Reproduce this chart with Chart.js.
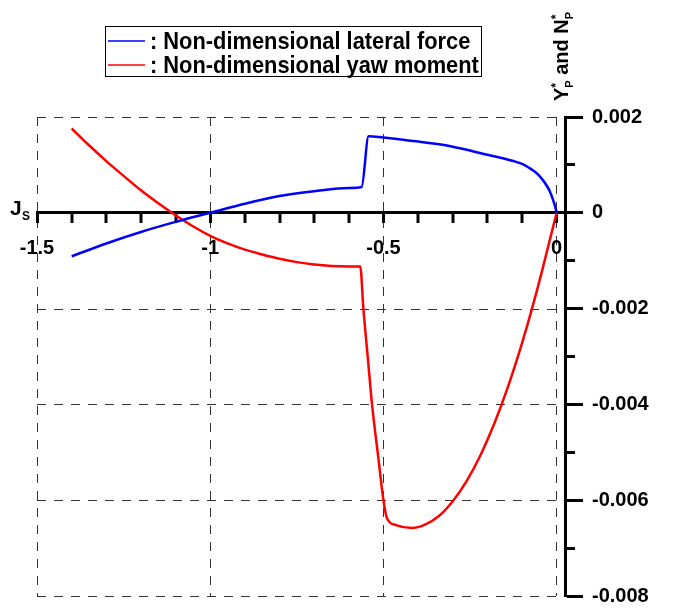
<!DOCTYPE html>
<html>
<head>
<meta charset="utf-8">
<script src="https://cdn.jsdelivr.net/npm/chart.js@4.4.0/dist/chart.umd.min.js"></script>
<style>
  html, body { margin: 0; padding: 0; background: #fff; }
</style>
</head>
<body>
<canvas id="chart" width="675" height="610"></canvas>
<script>
// Non-dimensional lateral force (blue)
const forceJ = [-1.4, -1.3, -1.2, -1.1, -1.0, -0.9, -0.8, -0.7, -0.6, -0.563, -0.543, -0.5, -0.45, -0.4, -0.35,
  -0.3, -0.25, -0.2, -0.15, -0.125, -0.1, -0.08, -0.06, -0.045, -0.03, -0.02, -0.01, -0.004, 0];
const forceY = [-0.00091, -0.00064, -0.00040, -0.00019, 0, 0.00019, 0.00035, 0.00045, 0.00052, 0.00054, 0.00160,
  0.00157, 0.00153, 0.00149, 0.00144, 0.00138, 0.00130, 0.00121, 0.00113, 0.00108, 0.00102, 0.00094, 0.00084,
  0.00073, 0.00058, 0.00045, 0.00026, 0.00012, 0];

// Non-dimensional yaw moment (red)
const momentJ = [-1.4, -1.35, -1.3, -1.25, -1.2, -1.15, -1.1, -1.05, -1.0, -0.95, -0.9, -0.85, -0.8, -0.75, -0.7,
  -0.65, -0.6, -0.567, -0.558, -0.545, -0.533, -0.515, -0.5, -0.49, -0.464, -0.418, -0.38, -0.34, -0.3, -0.26,
  -0.22, -0.18, -0.14, -0.1, -0.07, -0.04, -0.02, 0];
const momentY = [0.00176, 0.00141, 0.00108, 0.00077, 0.00047, 0.00020, -0.00005, -0.00028, -0.00048, -0.00064,
  -0.00077, -0.00087, -0.00096, -0.00103, -0.00108, -0.00111, -0.00112, -0.00112, -0.00200, -0.00304, -0.00400,
  -0.00510, -0.00600, -0.00637, -0.00652, -0.00658, -0.00651, -0.00633, -0.00602, -0.00560, -0.00506, -0.00440,
  -0.00362, -0.00272, -0.00197, -0.00115, -0.00057, 0];

const seriesLabels = ["Non-dimensional lateral force", "Non-dimensional yaw moment"];
const xTicks = [-1.5, -1.4, -1.3, -1.2, -1.1, -1.0, -0.9, -0.8, -0.7, -0.6, -0.5, -0.4, -0.3, -0.2, -0.1, 0];
const yMajorTicks = [-0.008, -0.006, -0.004, -0.002, 0, 0.002];
const yMinorTicks = [-0.007, -0.005, -0.003, -0.001, 0.001];

const FONT = "'Liberation Sans', Arial, sans-serif";
Chart.defaults.font.family = FONT;
Chart.defaults.font.weight = "bold";
Chart.defaults.color = "#000";

const isHalf = (v) => Math.abs(v * 2 - Math.round(v * 2)) < 1e-6;
const toPoints = (xs, ys) => xs.map((x, i) => ({ x: x, y: ys[i] }));

// dashed horizontal grid, legend box and axis titles
const decor = {
  id: "decor",
  beforeDatasetsDraw(chart) {
    const { ctx, scales: { x, y } } = chart;
    ctx.save();
    ctx.strokeStyle = "#333";
    ctx.lineWidth = 1;
    ctx.setLineDash([9, 8]);
    yMajorTicks.forEach((v) => {
      if (v === 0) return;
      const py = Math.round(y.getPixelForValue(v)) + 0.5;
      ctx.beginPath();
      ctx.moveTo(x.getPixelForValue(xTicks[0]), py);
      ctx.lineTo(x.getPixelForValue(0), py);
      ctx.stroke();
    });
    ctx.restore();
  },
  afterDraw(chart) {
    const ctx = chart.ctx;
    ctx.save();

    // legend
    ctx.strokeStyle = "#000";
    ctx.lineWidth = 1;
    ctx.strokeRect(105.5, 26.5, 376, 50);
    ctx.textBaseline = "middle";
    ctx.textAlign = "left";
    chart.data.datasets.forEach((ds, i) => {
      const ly = 41 + i * 24;
      ctx.strokeStyle = ds.borderColor;
      ctx.lineWidth = 1.5;
      ctx.beginPath();
      ctx.moveTo(108, ly);
      ctx.lineTo(145, ly);
      ctx.stroke();
      ctx.save();
      ctx.translate(150, ly);
      ctx.scale(0.91, 1);
      ctx.font = "bold 24px " + FONT;
      ctx.fillStyle = "#000";
      ctx.fillText(": " + ds.label, 0, 1);
      ctx.restore();
    });

    // y title, rotated
    ctx.translate(568, 101);
    ctx.rotate(-Math.PI / 2);
    ctx.textBaseline = "alphabetic";
    ctx.fillStyle = "#000";
    let cx = 0;
    const part = (txt, size, dy) => {
      ctx.font = "bold " + size + "px " + FONT;
      ctx.fillText(txt, cx, dy);
      return ctx.measureText(txt).width;
    };
    cx += part("Y", 20, 0);
    const w1 = part("*", 12, -8);
    const w2 = part("P", 11, 5);
    cx += Math.max(w1, w2);
    cx += part(" and N", 20, 0);
    part("*", 12, -8);
    part("P", 11, 5);
    ctx.restore();

    // J_S label
    ctx.save();
    ctx.fillStyle = "#000";
    ctx.textBaseline = "alphabetic";
    ctx.font = "bold 21px " + FONT;
    ctx.fillText("J", 10, 215);
    ctx.font = "bold 12px " + FONT;
    ctx.fillText("S", 22, 220);
    ctx.restore();
  }
};

new Chart(document.getElementById("chart"), {
  type: "line",
  data: {
    datasets: [
      {
        label: seriesLabels[0],
        data: toPoints(forceJ, forceY),
        borderColor: "#0000ff",
        borderWidth: 2.5,
        pointRadius: 0,
        cubicInterpolationMode: "monotone",
        fill: false
      },
      {
        label: seriesLabels[1],
        data: toPoints(momentJ, momentY),
        borderColor: "#ff0000",
        borderWidth: 2.5,
        pointRadius: 0,
        cubicInterpolationMode: "monotone",
        fill: false
      }
    ]
  },
  options: {
    responsive: false,
    animation: false,
    layout: { padding: { left: 37, top: 117, right: 0, bottom: 14 } },
    plugins: { legend: { display: false }, tooltip: { enabled: false } },
    scales: {
      x: {
        type: "linear",
        position: { y: 0 },
        min: -1.5,
        max: 0.024,
        afterBuildTicks: (s) => { s.ticks = xTicks.map((v) => ({ value: v })); },
        ticks: {
          autoSkip: false,
          maxRotation: 0,
          padding: 15,
          font: { size: 20, weight: "bold" },
          callback: (v) => (isHalf(v) ? String(Number(v.toFixed(1))) : "")
        },
        grid: {
          color: (c) => (c.tick && isHalf(c.tick.value) ? "#333" : "rgba(0,0,0,0)"),
          lineWidth: (c) => (c.tick && isHalf(c.tick.value) ? 1 : 0),
          tickLength: 9,
          tickWidth: 3,
          tickColor: "#000"
        },
        border: { display: true, color: "#000", width: 3, dash: [9, 8] }
      },
      y: {
        type: "linear",
        position: "right",
        weight: 1,
        min: -0.008,
        max: 0.002,
        afterBuildTicks: (s) => { s.ticks = yMajorTicks.map((v) => ({ value: v })); },
        afterFit: (s) => { s.width = 110; s.paddingTop = 10; s.paddingBottom = 10; },
        ticks: {
          padding: 9,
          font: { size: 20, weight: "bold" },
          callback: (v) => String(Number(v.toFixed(3)) || 0)
        },
        grid: { drawOnChartArea: false, tickLength: 18, tickWidth: 3, tickColor: "#000" },
        border: { display: true, color: "#000", width: 3 }
      },
      yMinor: {
        type: "linear",
        position: "right",
        weight: 0,
        min: -0.008,
        max: 0.002,
        afterBuildTicks: (s) => { s.ticks = yMinorTicks.map((v) => ({ value: v })); },
        afterFit: (s) => { s.width = 0; s.paddingTop = 0; s.paddingBottom = 0; },
        ticks: { display: false },
        grid: { drawOnChartArea: false, tickLength: 10, tickWidth: 3, tickColor: "#000" },
        border: { display: false }
      }
    }
  },
  plugins: [decor]
});
</script>
</body>
</html>
